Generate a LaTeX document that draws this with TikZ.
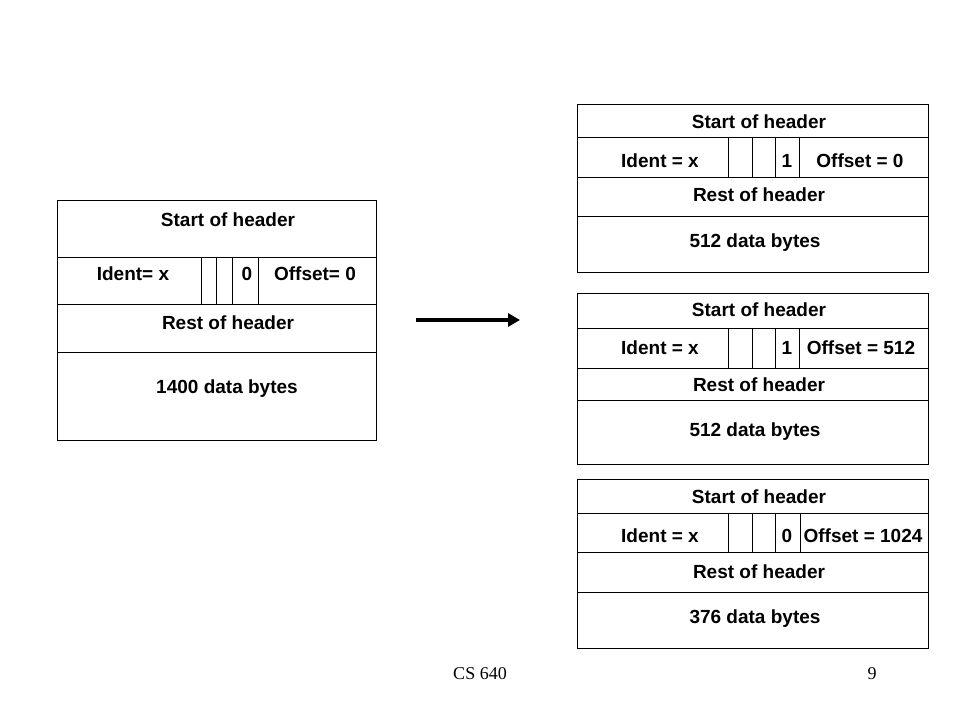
\documentclass[tikz,border=0pt]{standalone}
\usepackage{fontspec}
\setmainfont{Liberation Sans}
\newfontfamily\footserif{Liberation Serif}
\usetikzlibrary{arrows.meta}
\begin{document}
\begin{tikzpicture}[x=1pt,y=-1pt,
  cell/.style={draw=black, line width=0.9pt, inner sep=0pt, anchor=north west},
  divider/.style={draw=black, line width=0.9pt},
  lbl/.style={font=\bfseries\fontsize{19}{19}\selectfont, inner sep=0pt, text height=13.6pt, text depth=0pt, anchor=center},
  foot/.style={font=\footserif\fontsize{18}{18}\selectfont, inner sep=0pt, text height=12pt, text depth=0pt, anchor=center},
  bigarrow/.style={line width=4pt, -{Triangle[length=12pt,width=13pt]}}]
\fill[white] (0,0) rectangle (960,720);
\useasboundingbox (0,0) rectangle (960,720);

% ---------- original datagram ----------
\node[cell, minimum width=319pt, minimum height=57pt] (L1) at (57,200) {};
\node[cell, minimum width=319pt, minimum height=47pt] (L2) at (57,257) {};
\node[cell, minimum width=319pt, minimum height=48pt] (L3) at (57,304) {};
\node[cell, minimum width=319pt, minimum height=88pt] (L4) at (57,352) {};
\foreach \d in {144,159,175,201}
  \draw[divider] ([xshift=\d pt]L2.north west) -- ([xshift=\d pt]L2.south west);
\node[lbl] (Lt1) at (228,220) {Start of header};
\node[lbl] (Lt2) at (133,274) {Ident= x};
\node[lbl] (Lt3) at (247,274) {0};
\node[lbl] (Lt4) at (315,274) {Offset= 0};
\node[lbl] (Lt5) at (228,323) {Rest of header};
\node[lbl] (Lt6) at (227,387) {1400 data bytes};

% ---------- arrow ----------
\coordinate (a0) at (416,320);
\coordinate (a1) at (520,320);
\draw[bigarrow] (a0) -- (a1);

% ---------- fragment 1 ----------
\node[cell, minimum width=351pt, minimum height=33pt] (A1) at (577,104) {};
\node[cell, minimum width=351pt, minimum height=40pt] (A2) at (577,137) {};
\node[cell, minimum width=351pt, minimum height=39pt] (A3) at (577,177) {};
\node[cell, minimum width=351pt, minimum height=56pt] (A4) at (577,216) {};
\foreach \d in {151,175,198,222}
  \draw[divider] ([xshift=\d pt]A2.north west) -- ([xshift=\d pt]A2.south west);
\node[lbl] (At1) at (759,122) {Start of header};
\node[lbl] (At2) at (660,161) {Ident = x};
\node[lbl] (At3) at (787,161) {1};
\node[lbl] (At4) at (860,161) {Offset = 0};
\node[lbl] (At5) at (759,195) {Rest of header};
\node[lbl] (At6) at (755,241) {512 data bytes};

% ---------- fragment 2 ----------
\node[cell, minimum width=351pt, minimum height=35pt] (B1) at (577,293) {};
\node[cell, minimum width=351pt, minimum height=40pt] (B2) at (577,328) {};
\node[cell, minimum width=351pt, minimum height=32pt] (B3) at (577,368) {};
\node[cell, minimum width=351pt, minimum height=64pt] (B4) at (577,400) {};
\foreach \d in {151,175,198,222}
  \draw[divider] ([xshift=\d pt]B2.north west) -- ([xshift=\d pt]B2.south west);
\node[lbl] (Bt1) at (759,310) {Start of header};
\node[lbl] (Bt2) at (660,348) {Ident = x};
\node[lbl] (Bt3) at (787,348) {1};
\node[lbl] (Bt4) at (861,348) {Offset = 512};
\node[lbl] (Bt5) at (759,385) {Rest of header};
\node[lbl] (Bt6) at (755,430) {512 data bytes};

% ---------- fragment 3 ----------
\node[cell, minimum width=351pt, minimum height=34pt] (C1) at (577,479) {};
\node[cell, minimum width=351pt, minimum height=39pt] (C2) at (577,513) {};
\node[cell, minimum width=351pt, minimum height=40pt] (C3) at (577,552) {};
\node[cell, minimum width=351pt, minimum height=56pt] (C4) at (577,592) {};
\foreach \d in {151,175,198,223}
  \draw[divider] ([xshift=\d pt]C2.north west) -- ([xshift=\d pt]C2.south west);
\node[lbl] (Ct1) at (759,497) {Start of header};
\node[lbl] (Ct2) at (660,536) {Ident = x};
\node[lbl] (Ct3) at (787,536) {0};
\node[lbl] (Ct4) at (863,536) {Offset = 1024};
\node[lbl] (Ct5) at (759,572) {Rest of header};
\node[lbl] (Ct6) at (755,617) {376 data bytes};

% ---------- footer ----------
\node[foot] (cs) at (480,673) {CS 640};
\node[foot] (pg) at (872,673) {9};
\end{tikzpicture}
\end{document}
